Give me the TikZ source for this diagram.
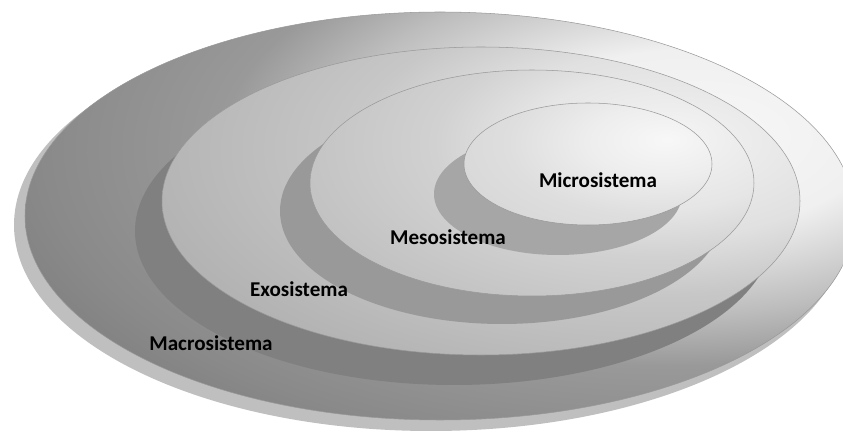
\documentclass[tikz,border=0pt]{standalone}
\usepackage{fontspec}
\setmainfont{Carlito}
\usetikzlibrary{positioning}

% light spot sits at the upper right of every ring
\pgfdeclareradialshading{macroshade}{\pgfpoint{16bp}{10bp}}{%
  rgb(0bp)=(0.97,0.97,0.97); rgb(11bp)=(0.94,0.94,0.94);
  rgb(21bp)=(0.74,0.74,0.74); rgb(27bp)=(0.6,0.6,0.6);
  rgb(37bp)=(0.54,0.54,0.54); rgb(42bp)=(0.5,0.5,0.5);
  rgb(200bp)=(0.48,0.48,0.48)}
\pgfdeclareradialshading{exoshade}{\pgfpoint{16bp}{10bp}}{%
  rgb(0bp)=(0.95,0.95,0.95); rgb(15bp)=(0.88,0.88,0.88);
  rgb(24bp)=(0.78,0.78,0.78); rgb(40bp)=(0.7,0.7,0.7);
  rgb(44bp)=(0.66,0.66,0.66); rgb(200bp)=(0.62,0.62,0.62)}
\pgfdeclareradialshading{mesoshade}{\pgfpoint{16bp}{10bp}}{%
  rgb(0bp)=(0.96,0.96,0.96); rgb(15bp)=(0.9,0.9,0.9);
  rgb(25bp)=(0.82,0.82,0.82); rgb(40bp)=(0.76,0.76,0.76);
  rgb(200bp)=(0.74,0.74,0.74)}
\pgfdeclareradialshading{microshade}{\pgfpoint{16bp}{10bp}}{%
  rgb(0bp)=(0.97,0.97,0.97); rgb(15bp)=(0.93,0.93,0.93);
  rgb(30bp)=(0.87,0.87,0.87); rgb(45bp)=(0.84,0.84,0.84);
  rgb(200bp)=(0.83,0.83,0.83)}

\begin{document}
\begin{tikzpicture}[
    x=0.02cm, y=-0.02cm,
    every node/.style={font=\fontsize{12}{14}\selectfont\bfseries},
    rim/.style={draw=black!40, line width=0.3pt},
]
\useasboundingbox (0,0) rectangle (843,432);
\clip (0,0) rectangle (843,432);
% macrosistema, with its pale drop shadow
\fill[black!25] (431,225) ellipse [x radius=417, y radius=206];
\shadedraw[rim, shading=macroshade] (440,216) ellipse [x radius=415, y radius=204];
% exosistema
\fill[black!50] (454,231) ellipse [x radius=319, y radius=154];
\shadedraw[rim, shading=exoshade] (481,201) ellipse [x radius=319, y radius=154];
% mesosistema
\fill[black!40] (502,211) ellipse [x radius=222, y radius=113];
\shadedraw[rim, shading=mesoshade] (532,183) ellipse [x radius=222, y radius=113];
% microsistema
\fill[black!35] (558,194) ellipse [x radius=124, y radius=61];
\shadedraw[rim, shading=microshade] (588,164) ellipse [x radius=124, y radius=61];
% labels
\node (micro) at (598,180) {Microsistema};
\node (meso) at (448,237) {Mesosistema};
\node (exo) at (299,289) {Exosistema};
\node (macro) at (211,343) {Macrosistema};
\end{tikzpicture}
\end{document}
